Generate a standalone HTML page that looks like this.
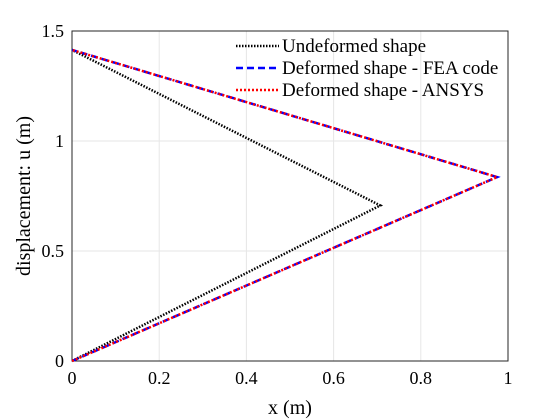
<!DOCTYPE html>
<html><head><style>body{margin:0;background:#fff}svg{display:block;font-family:"Liberation Serif",serif}</style></head>
<body>
<svg width="560" height="420">
<g id="g"></g>
</svg>
<script>
const xTicks=[0,0.2,0.4,0.6,0.8,1];
const yTicks=[0,0.5,1,1.5];
const undefX=[0,0.707,0];
const undefY=[0,0.707,1.414];
const feaX=[0,0.975,0];
const feaY=[0,0.836,1.414];
const ansysX=[0,0.975,0];
const ansysY=[0,0.836,1.414];
const L=72,R=508,T=31,B=361;
const sx=v=>L+v*(R-L), sy=v=>B-v/1.5*(B-T);
const g=document.getElementById('g');
const NS='http://www.w3.org/2000/svg';
function mk(t,a,p){const e=document.createElementNS(NS,t);for(const k in a)e.setAttribute(k,a[k]);(p||g).appendChild(e);return e;}
mk('rect',{x:L,y:T,width:R-L,height:B-T,fill:'#fff'});
xTicks.forEach(v=>{const l=mk('line',{x1:sx(v),x2:sx(v),y1:T,y2:B,stroke:'#e6e6e6'});

const t=mk('text',{x:sx(v),y:B+23,'text-anchor':'middle','font-size':18});t.textContent=v;
});
yTicks.forEach(v=>{const l=mk('line',{x1:L,x2:R,y1:sy(v),y2:sy(v),stroke:'#e6e6e6'});

const t=mk('text',{x:L-8,y:sy(v)+6,'text-anchor':'end','font-size':18});t.textContent=v;
});
const ax=mk('rect',{x:L,y:T,width:R-L,height:B-T,fill:'none',stroke:'#262626'});

function line(xs,ys,st,name){const p=mk('polyline',Object.assign({points:xs.map((x,i)=>sx(x)+','+sy(ys[i])).join(' '),fill:'none'},st));
}
line(undefX,undefY,{stroke:'#000','stroke-width':2.5,'stroke-dasharray':'1.5 1.5'},'undeformed-line');
line(feaX,feaY,{stroke:'#00f','stroke-width':2.5,'stroke-dasharray':'7 4'},'fea-line');
line(ansysX,ansysY,{stroke:'#f00','stroke-width':2.5,'stroke-dasharray':'2 2'},'ansys-line');
const leg=[['Undeformed shape',{stroke:'#000','stroke-dasharray':'1.5 1.5'}],['Deformed shape - FEA code',{stroke:'#00f','stroke-dasharray':'7 4'}],['Deformed shape - ANSYS',{stroke:'#f00','stroke-dasharray':'2 2'}]];
leg.forEach((e,i)=>{const y=46+i*22;const l=mk('line',Object.assign({x1:236,x2:279,y1:y,y2:y,'stroke-width':2.5},e[1]));

const t=mk('text',{x:282,y:y+6,'font-size':19});t.textContent=e[0];
});
const xt=mk('text',{x:(L+R)/2,y:414,'text-anchor':'middle','font-size':20});xt.textContent='x (m)';

const yt=mk('text',{x:0,y:0,'text-anchor':'middle','font-size':20,transform:'translate(30,196) rotate(-90)'});yt.textContent='displacement: u (m)';

</script>
</body></html>
